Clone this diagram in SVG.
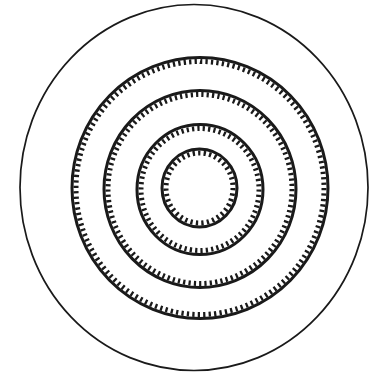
<svg xmlns="http://www.w3.org/2000/svg" width="369" height="375" viewBox="0 0 369 375">
  <style>
    .line { fill: none; stroke: #1a1a1a; stroke-width: 3; }
    .teeth { fill: none; stroke: #1a1a1a; stroke-width: 5; stroke-dasharray: 0.42 0.58; }
    .outer { fill: none; stroke: #1a1a1a; stroke-width: 1.7; }
  </style>
  <rect width="369" height="375" fill="#ffffff"/>
  <g id="outer-circle">
    <ellipse class="outer" cx="194" cy="187.5" rx="174" ry="183"/>
  </g>
  <g id="ring-1">
    <ellipse class="line" cx="200" cy="188" rx="128" ry="130.5"/>
    <ellipse class="teeth" cx="200" cy="188" rx="124" ry="126.5" pathLength="144"/>
  </g>
  <g id="ring-2">
    <ellipse class="line" cx="200" cy="189" rx="96" ry="98.5"/>
    <ellipse class="teeth" cx="200" cy="189" rx="92" ry="94.5" pathLength="109"/>
  </g>
  <g id="ring-3">
    <ellipse class="line" cx="200" cy="189.5" rx="63" ry="65"/>
    <ellipse class="teeth" cx="200" cy="189.5" rx="59" ry="61" pathLength="70"/>
  </g>
  <g id="ring-4">
    <ellipse class="line" cx="199.5" cy="188" rx="37.5" ry="39"/>
    <ellipse class="teeth" cx="199.5" cy="188" rx="33.5" ry="35" pathLength="39"/>
  </g>
</svg>
